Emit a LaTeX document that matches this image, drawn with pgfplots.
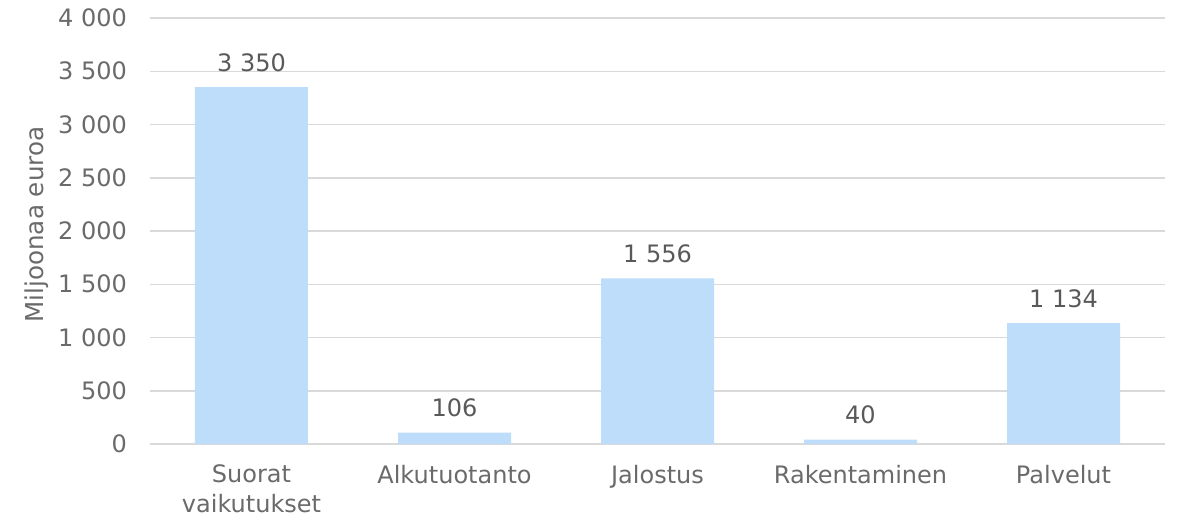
\documentclass[border=0pt]{standalone}
\usepackage{fontspec}
\setmainfont{DejaVu Sans}
\usepackage{pgfplots}
\pgfplotsset{compat=1.18}
\definecolor{barblue}{HTML}{BDDDFB}
\definecolor{txtgray}{HTML}{595959}
\definecolor{tickgray}{HTML}{6A6A6A}
\definecolor{gridgray}{HTML}{D9D9D9}
\begin{document}
\begin{tikzpicture}
\begin{axis}[
  at={(0,0)}, anchor=south west,
  scale only axis,
  width=507.5pt, height=213pt,
  xmin=-0.5, xmax=4.5,
  ymin=0, ymax=4000,
  ytick={0,500,...,4000},
  xtick={0,1,2,3,4},
  xticklabels={{Suorat\\vaikutukset},Alkutuotanto,Jalostus,Rakentaminen,Palvelut},
  scaled y ticks=false,
  axis line style={draw=none},
  major tick length=0pt,
  ymajorgrids,
  grid style={gridgray, line width=0.75pt},
  font=\fontsize{12}{15}\selectfont,
  /pgf/number format/.cd, 1000 sep={\ }, assume math mode=true, /pgfplots/.cd,
  yticklabel style={tickgray, anchor=east, xshift=-8pt},
  xticklabel style={tickgray, align=center, anchor=north, yshift=-7pt},
  every axis y label/.style={at={(axis description cs:0,0.515)}, xshift=-56.5pt, rotate=90, anchor=center, tickgray, font=\fontsize{12.3}{15}\selectfont},
  ylabel={Miljoonaa euroa},
  ybar, bar width=56.5pt,
  nodes near coords,
  every node near coord/.append style={txtgray, yshift=4.25pt, font=\fontsize{12}{15}\selectfont},
]
\addplot[fill=barblue, draw=none] coordinates {(0,3350) (1,106) (2,1556) (3,40) (4,1134)};
\end{axis}
\useasboundingbox (-75pt,-38pt) rectangle (517pt,222pt);
\end{tikzpicture}
\end{document}
